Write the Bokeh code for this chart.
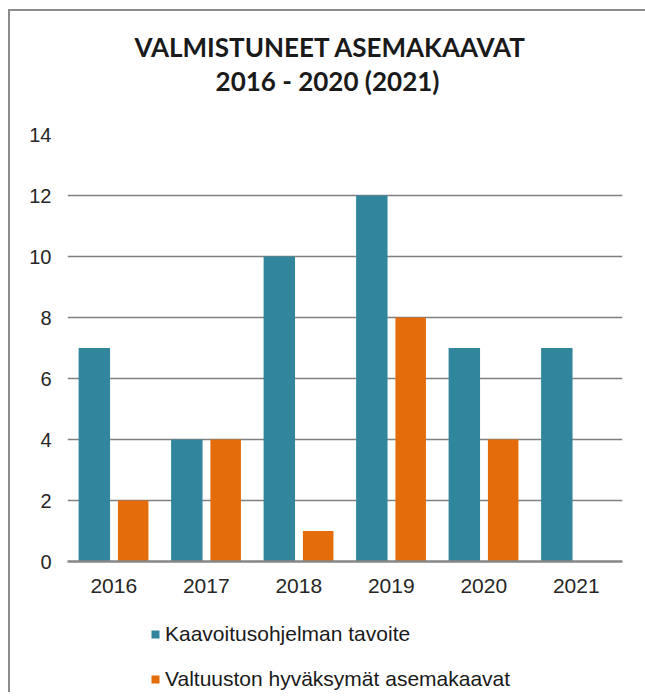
from bokeh.plotting import figure
from bokeh.models import Label, Legend, LegendItem, FactorRange, ColumnDataSource, Range1d
from bokeh.layouts import column
from bokeh.transform import dodge
from bokeh.embed import file_html
from bokeh.resources import INLINE

years = ["2016", "2017", "2018", "2019", "2020", "2021"]
tavoite = [7, 4, 10, 12, 7, 7]
hyvaksymat = [2, 4, 1, 8, 4, None]
series_names = ["Kaavoitusohjelman tavoite", "Valtuuston hyväksymät asemakaavat"]
y_ticks = [0, 2, 4, 6, 8, 10, 12, 14]
title1 = "VALMISTUNEET ASEMAKAAVAT"
title2 = "2016 - 2020 (2021)"

TEAL = "#31859C"
ORANGE = "#E46C0A"
W = 635
LEFT = 57
RIGHT = 23

src = ColumnDataSource(dict(years=years, a=tavoite,
                            b=[v if v is not None else float("nan") for v in hyvaksymat]))

# --- title strip ---
pt = figure(width=W, height=109, output_backend="svg", toolbar_location=None,
            x_axis_location=None, y_axis_location=None, title_location=None,
            min_border_left=LEFT, min_border_right=RIGHT, min_border_top=0, min_border_bottom=0,
            x_range=(0, 1), y_range=(0, 1))
pt.grid.visible = False
pt.outline_line_color = None
for txt, xs, ys in [(title1, 263, 74), (title2, 260, 40)]:
    pt.add_layout(Label(x=xs, y=ys, x_units="screen", y_units="screen", text=txt,
                        text_font="Lato", text_font_style="bold", text_font_size="26px",
                        text_color="#1a1a1a", text_align="center", text_baseline="alphabetic"))

# --- main chart ---
p = figure(x_range=FactorRange(*years), y_range=(0, 14), width=W, height=486,
           output_backend="svg", toolbar_location=None, title_location=None,
           min_border_left=LEFT, min_border_right=RIGHT, min_border_top=14, min_border_bottom=45)
p.outline_line_color = None

r1 = p.vbar(x=dodge("years", -0.21, range=p.x_range), top="a", width=0.34, source=src,
            fill_color=TEAL, line_color=None)
r2 = p.vbar(x=dodge("years", 0.21, range=p.x_range), top="b", width=0.33, source=src,
            fill_color=ORANGE, line_color=None)

p.x_range.range_padding = 0
p.xgrid.grid_line_color = None
p.ygrid.grid_line_color = "#808080"
p.ygrid.grid_line_width = 1.5
p.yaxis.ticker = y_ticks
p.yaxis.axis_line_color = None
p.yaxis.major_tick_line_color = None
p.yaxis.minor_tick_line_color = None
p.yaxis.major_label_text_font = "Liberation Sans"
p.yaxis.major_label_text_font_size = "20px"
p.yaxis.major_label_text_color = "#262626"
p.yaxis.major_label_standoff = 10

p.xaxis.axis_line_color = "#868686"
p.xaxis.axis_line_width = 2.5
p.xaxis.major_tick_line_color = None
p.xaxis.minor_tick_line_color = None
p.xaxis.major_label_text_font = "Liberation Sans"
p.xaxis.major_label_text_font_size = "21px"
p.xaxis.major_label_text_color = "#262626"
p.xaxis.major_label_standoff = 11

# --- legend strip ---
pl = figure(x_range=FactorRange(*years), y_range=Range1d(100, 101), width=W, height=86,
            output_backend="svg", toolbar_location=None, title_location=None,
            x_axis_location=None, y_axis_location=None,
            min_border_left=LEFT, min_border_right=RIGHT, min_border_top=0, min_border_bottom=0)
pl.grid.visible = False
pl.outline_line_color = None
l1 = pl.vbar(x="years", top="a", width=0.34, source=src, fill_color=TEAL, line_color=None)
l2 = pl.vbar(x="years", top="b", width=0.33, source=src, fill_color=ORANGE, line_color=None)

legend = Legend(items=[LegendItem(label=series_names[0], renderers=[l1]),
                       LegendItem(label=series_names[1], renderers=[l2])],
                location=(83, 1), orientation="vertical")
legend.label_text_font = "Liberation Sans"
legend.label_text_font_size = "21px"
legend.label_text_color = "#1a1a1a"
legend.glyph_width = 10
legend.glyph_height = 10
legend.label_standoff = 5
legend.label_height = 24
legend.spacing = 21
legend.padding = 0
legend.margin = 0
legend.border_line_color = None
legend.background_fill_alpha = 0
pl.add_layout(legend, "center")

layout = column(pt, p, pl, spacing=0)
layout.styles = {"border-left": "2px solid #8c8c8c", "border-top": "2px solid #8c8c8c",
                 "margin-left": "8px", "margin-top": "9px"}

open("out.html", "w").write(file_html(layout, INLINE))
